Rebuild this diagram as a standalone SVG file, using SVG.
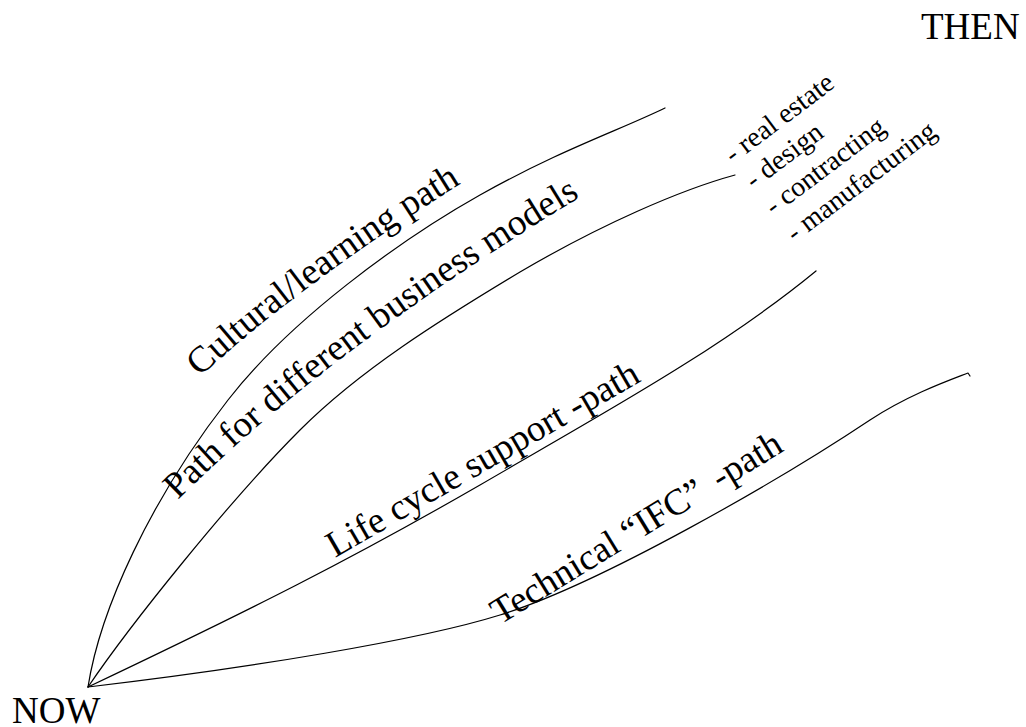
<svg xmlns="http://www.w3.org/2000/svg" width="1026" height="727" viewBox="0 0 1026 727">
<style>
  .c{fill:none;stroke:#000;stroke-width:1.2;stroke-linecap:round;stroke-linejoin:round}
  text{font-family:"Liberation Serif","Times New Roman",serif;fill:#000}
  .big{font-size:37px}
  .small{font-size:28px}
</style>
<defs>
  <path id="tp1" d="M200,377 Q300,284 462,183 L560,122"/>
  <path id="tp2" d="M178,500 Q331,347 587,193 L680,137"/>
</defs>
<rect width="1026" height="727" fill="#fff"/>
<g id="connectors">
  <path id="path-cultural" class="c" d="M88,687 C100,610 150,500 228,400 C290,320 400,240 480,195 C560,150 620,130 665,108"/>
  <path id="path-business" class="c" d="M88,687 C130,625 230,500 300,430 C360,370 440,320 520,272 C600,225 680,190 735,175"/>
  <path id="path-lifecycle" class="c" d="M88,687 C250,610 350,560 480,485 C600,415 720,350 816,271"/>
  <path id="path-technical" class="c" d="M88,687 C250,668 420,640 500,615 C600,584 780,480 870,420 C910,394 950,380 968,373 l2,3"/>
</g>
<g id="node-now"><text class="big" x="12" y="723">NOW</text></g>
<g id="node-then"><text class="big" x="921" y="39">THEN</text></g>
<g id="label-cultural"><text class="big"><textPath href="#tp1">Cultural/learning path</textPath></text></g>
<g id="label-business"><text class="big"><textPath href="#tp2">Path for different business models</textPath></text></g>
<g id="label-lifecycle"><text class="big" transform="translate(335,558) rotate(-30)">Life cycle support -path</text></g>
<g id="label-technical"><text class="big" transform="translate(500,625) rotate(-31.5)">Technical “IFC” <tspan dx="6">-path</tspan></text></g>
<g id="label-models" transform="translate(733,164) rotate(-37)">
  <text class="small" x="0" y="0">- real estate</text>
  <text class="small" x="1" y="33">- design</text>
  <text class="small" x="1" y="66">- contracting</text>
  <text class="small" x="2" y="100">- manufacturing</text>
</g>
</svg>
